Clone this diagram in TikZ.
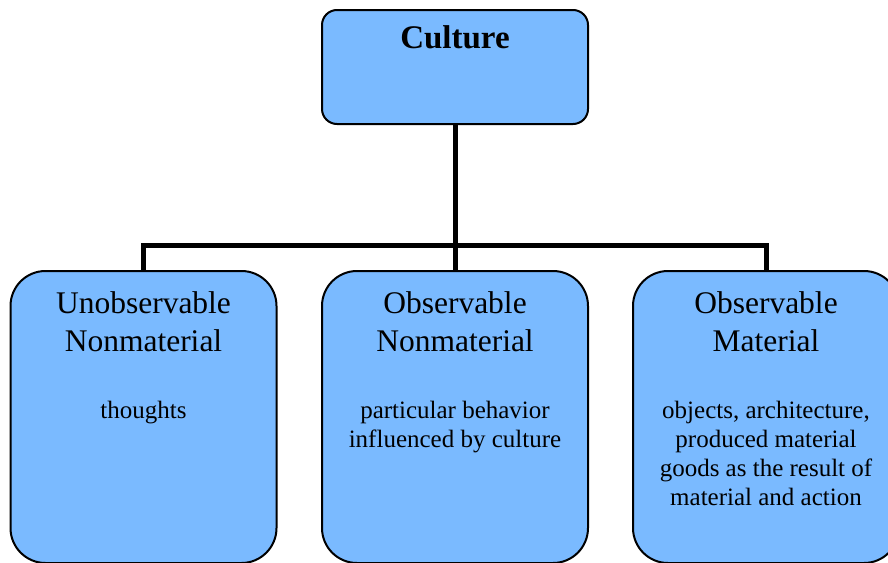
\documentclass[tikz,border=0pt]{standalone}
\usepackage{fontspec}
\setmainfont{Liberation Serif}
\usetikzlibrary{positioning}
\definecolor{boxblue}{RGB}{122,186,255}
\begin{document}
\begin{tikzpicture}[
  x=1pt, y=-1pt,
  box/.style={rectangle, draw, line width=2pt, fill=boxblue, minimum width=266pt},
  topbox/.style={box, rounded corners=15pt, minimum height=114pt},
  catbox/.style={box, rounded corners=35pt, minimum height=292pt},
  heading/.style={font=\fontsize{31.5}{38}\selectfont, align=center, anchor=base, inner sep=0pt},
  note/.style={font=\fontsize{25}{29}\selectfont, align=center, anchor=base, inner sep=0pt},
  link/.style={line width=5pt}
]
\useasboundingbox (0,0) rectangle (888,562);

\node[topbox] (culture) at (455,67) {};
\node[heading, font=\fontsize{33}{38}\selectfont\bfseries] (culturetxt) at (455,48) {Culture};

\node[catbox] (unobs) at (143.5,417) {};
\node[catbox] (obs) at (455,417) {};
\node[catbox] (mat) at (766,417) {};

% anchor=base sits on the last line
\node[heading] (unobstitle) at (143.5,351) {Unobservable\\Nonmaterial};
\node[heading] (obstitle) at (455,351) {Observable\\Nonmaterial};
\node[heading] (mattitle) at (766,351) {Observable\\Material};

\node[note] (unobsnote) at (143.5,418) {thoughts};
\node[note] (obsnote) at (455,447) {particular behavior\\influenced by culture};
\node[note] (matnote) at (766,505) {objects, architecture,\\produced material\\goods as the result of\\material and action};

\coordinate (bus) at (455,245);
\draw[link] (culture.south) -- (bus);
\draw[link] (unobs.north) |- (bus) -| (mat.north);
\draw[link] (bus) -- (obs.north);
\end{tikzpicture}
\end{document}
